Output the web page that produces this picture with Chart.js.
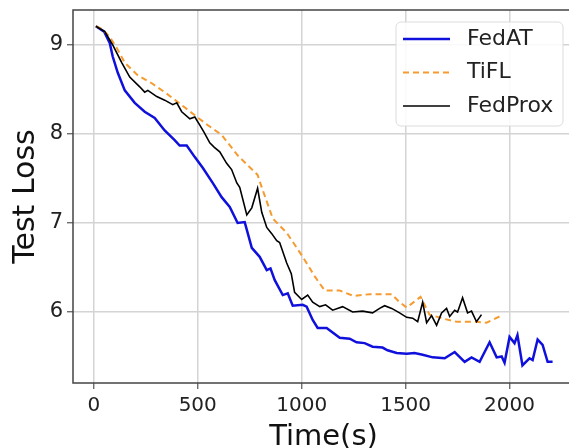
<!DOCTYPE html>
<html>
<head>
<meta charset="utf-8">
<script src="https://cdn.jsdelivr.net/npm/chart.js@4/dist/chart.umd.min.js"></script>
<style>
  html, body { margin: 0; padding: 0; background: #fff; overflow: hidden; }
  #wrap { width: 576px; height: 448px; }
</style>
</head>
<body>
<div id="wrap"><canvas id="loss-chart" width="576" height="448"></canvas></div>
<script>
// values
const seriesNames = ['FedAT', 'TiFL', 'FedProx'];
const xTicks = [0, 500, 1000, 1500, 2000];
const yTicks = [6, 7, 8, 9];

const fedatTime = [10, 50, 77, 91, 115, 149, 197, 245, 293, 341, 389, 413, 447, 486, 524, 572, 615, 654, 692, 726, 760, 798, 832, 850, 870, 909, 933, 957, 1005, 1024, 1053, 1077, 1120, 1183, 1231, 1264, 1303, 1341, 1389, 1413, 1457, 1505, 1543, 1582, 1630, 1688, 1736, 1784, 1817, 1856, 1904, 1938, 1962, 1976, 2000, 2024, 2038, 2062, 2096, 2111, 2135, 2159, 2183, 2207];
const fedatLoss = [9.21, 9.15, 9.02, 8.87, 8.69, 8.49, 8.35, 8.25, 8.18, 8.04, 7.93, 7.87, 7.87, 7.74, 7.62, 7.45, 7.29, 7.18, 7.00, 7.01, 6.72, 6.62, 6.47, 6.49, 6.36, 6.19, 6.21, 6.07, 6.08, 6.06, 5.91, 5.82, 5.82, 5.71, 5.70, 5.66, 5.65, 5.61, 5.60, 5.57, 5.54, 5.53, 5.54, 5.52, 5.49, 5.48, 5.55, 5.44, 5.49, 5.44, 5.66, 5.49, 5.50, 5.43, 5.72, 5.65, 5.74, 5.40, 5.48, 5.46, 5.69, 5.63, 5.44, 5.44];

const tiflTime = [10, 40, 77, 110, 149, 211, 279, 341, 404, 486, 548, 615, 692, 788, 808, 861, 928, 1005, 1063, 1111, 1183, 1250, 1327, 1433, 1471, 1505, 1572, 1615, 1690, 1745, 1841, 1889, 1952];
const tiflLoss = [9.21, 9.18, 9.09, 8.97, 8.80, 8.66, 8.57, 8.47, 8.36, 8.21, 8.10, 7.99, 7.76, 7.54, 7.40, 7.05, 6.89, 6.62, 6.40, 6.24, 6.24, 6.18, 6.20, 6.20, 6.11, 6.05, 6.17, 5.97, 5.92, 5.89, 5.89, 5.88, 5.95];

const fedproxTime = [10, 53, 91, 135, 173, 221, 245, 260, 303, 341, 380, 399, 423, 462, 486, 510, 530, 558, 580, 606, 639, 663, 688, 702, 736, 760, 788, 808, 832, 856, 880, 894, 928, 950, 966, 1000, 1029, 1053, 1087, 1115, 1149, 1197, 1245, 1293, 1341, 1375, 1399, 1433, 1471, 1505, 1534, 1558, 1582, 1601, 1625, 1649, 1673, 1697, 1712, 1736, 1750, 1774, 1798, 1817, 1841, 1865];
const fedproxLoss = [9.21, 9.15, 9.00, 8.80, 8.64, 8.53, 8.47, 8.49, 8.42, 8.38, 8.33, 8.35, 8.25, 8.17, 8.19, 8.10, 8.02, 7.90, 7.85, 7.80, 7.67, 7.60, 7.45, 7.40, 7.09, 7.17, 7.39, 7.12, 6.95, 6.88, 6.80, 6.78, 6.55, 6.43, 6.22, 6.14, 6.19, 6.11, 6.06, 6.08, 6.02, 6.06, 6.00, 6.01, 5.99, 6.04, 6.07, 6.04, 5.99, 5.94, 5.93, 5.89, 6.11, 5.88, 5.96, 5.85, 5.99, 6.04, 5.95, 6.02, 6.00, 6.16, 5.99, 6.01, 5.89, 5.97];

const pairs = (xs, ys) => xs.map((x, i) => ({x: x, y: ys[i]}));
const font = 'DejaVu Sans';

// matplotlib style frame + legend inside the axes
const framePlugin = {
    id: 'frame',
    afterDraw(chart) {
        const {ctx, chartArea: a} = chart;
        ctx.save();
        ctx.strokeStyle = '#444';
        ctx.lineWidth = 1.5;
        ctx.beginPath();
        ctx.moveTo(a.right, a.top);
        ctx.lineTo(a.left, a.top);
        ctx.lineTo(a.left, a.bottom);
        ctx.lineTo(a.right, a.bottom);
        ctx.stroke();

        const w = 167, h = 104;
        const bx = a.right - 11 - w, by = a.top + 12;
        ctx.beginPath();
        ctx.roundRect(bx, by, w, h, 5);
        ctx.fillStyle = 'rgba(255,255,255,0.85)';
        ctx.fill();
        ctx.strokeStyle = '#dcdcdc';
        ctx.lineWidth = 1;
        ctx.stroke();

        ctx.font = '22px "' + font + '"';
        ctx.textBaseline = 'middle';
        ctx.fillStyle = '#222';
        chart.data.datasets.forEach((ds, i) => {
            const y = by + 17 + i * 33.5;
            ctx.beginPath();
            ctx.setLineDash(ds.borderDash || []);
            ctx.strokeStyle = ds.borderColor;
            ctx.lineWidth = ds.borderWidth;
            ctx.moveTo(bx + 7, y);
            ctx.lineTo(bx + 54, y);
            ctx.stroke();
            ctx.setLineDash([]);
            ctx.fillText(ds.label, bx + 71, y);
        });
        ctx.restore();
    }
};

new Chart(document.getElementById('loss-chart'), {
    type: 'line',
    data: {
        datasets: [{
            label: seriesNames[0],
            data: pairs(fedatTime, fedatLoss),
            borderColor: '#1010dc',
            borderWidth: 2.5,
            order: 3
        }, {
            label: seriesNames[1],
            data: pairs(tiflTime, tiflLoss),
            borderColor: '#f59b30',
            borderWidth: 2,
            borderDash: [6, 4],
            order: 2
        }, {
            label: seriesNames[2],
            data: pairs(fedproxTime, fedproxLoss),
            borderColor: '#000000',
            borderWidth: 1.6,
            order: 1
        }]
    },
    options: {
        responsive: false,
        animation: false,
        elements: { point: { radius: 0 }, line: { tension: 0 } },
        layout: { padding: { top: 10, right: 2, left: 0, bottom: 0 } },
        plugins: { legend: { display: false }, tooltip: { enabled: false } },
        scales: {
            x: {
                type: 'linear',
                min: -100,
                max: 2310,
                afterBuildTicks: s => { s.ticks = xTicks.map(v => ({value: v})); },
                afterFit: s => { s.height = 65; s.paddingLeft = 0; s.paddingRight = 0; },
                border: { display: false },
                grid: { color: '#d4d4d4', lineWidth: 1.5, tickColor: '#555', tickLength: 6, tickWidth: 1.2 },
                ticks: { padding: 5, color: '#222', font: { family: font, size: 20 }, callback: v => String(v) },
                title: { display: true, text: 'Time(s)', color: '#111', padding: { top: 0, bottom: -4 },
                         font: { family: font, size: 29, lineHeight: 1.0 } }
            },
            y: {
                min: 5.202,
                max: 9.393,
                afterBuildTicks: s => { s.ticks = yTicks.map(v => ({value: v})); },
                afterFit: s => { s.width = 73; s.paddingTop = 0; s.paddingBottom = 0; },
                border: { display: false },
                grid: { color: '#d4d4d4', lineWidth: 1.5, tickColor: '#555', tickLength: 6, tickWidth: 1.2 },
                ticks: { padding: 4, color: '#222', font: { family: font, size: 21 }, callback: v => String(v) },
                title: { display: true, text: 'Test Loss', color: '#111', padding: { top: 11, bottom: 0 },
                         font: { family: font, size: 30, lineHeight: 1.0 } }
            }
        }
    },
    plugins: [framePlugin]
});
</script>
</body>
</html>
